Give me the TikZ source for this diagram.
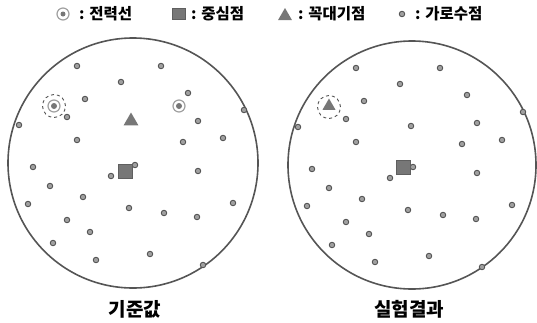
\documentclass[tikz,border=0pt]{standalone}
\usepackage{fontspec}
\newfontfamily\kr{Noto Sans CJK KR}
\usetikzlibrary{shapes.geometric}
\definecolor{rim}{HTML}{555555}
\definecolor{mark}{HTML}{777777}
\tikzset{
  lamp/.style={draw=rim,fill=mark!70,circle,line width=0.9pt,inner sep=0pt,minimum size=5.5pt},
  centre/.style={fill=mark,draw=mark!80!black,inner sep=0pt,minimum size=14pt},
  pole/.style={fill=mark,regular polygon,regular polygon sides=3,inner sep=0pt,minimum size=17pt},
  cable/.style={circle,draw=mark!70,line width=1.2pt,fill=white,inner sep=0pt,minimum size=12pt},
  core/.style={circle,fill=mark,inner sep=0pt,minimum size=6pt},
  ring/.style={circle,draw=rim,dashed,line width=0.9pt,inner sep=0pt,minimum size=23pt},
  area/.style={draw=rim,line width=1.6pt},
  legend/.style={anchor=west,font=\kr\bfseries\fontsize{15.5}{15.5}\selectfont,inner sep=0pt},
  caption/.style={font=\kr\bfseries\fontsize{19}{19}\selectfont,inner sep=0pt}
}
\begin{document}
\begin{tikzpicture}[x=1pt,y=-1pt]
  \useasboundingbox (0,0) rectangle (537,322);
  % legend
  \node[cable] (keyc) at (63,14) {};
  \node[core,minimum size=5pt] at (keyc) {};
  \node[legend] (keyct) at (79,14) {: 전력선};
  \node[centre,minimum width=13pt,minimum height=11pt] (keys) at (179,14) {};
  \node[legend] (keyst) at (191,14) {: 중심점};
  \node[pole,minimum size=16pt] (keyp) at (285,16) {};
  \node[legend] (keypt) at (298,14) {: 꼭대기점};
  \node[lamp] (keyl) at (402,14) {};
  \node[legend] (keylt) at (415,14) {: 가로수점};
  % reference area
  \node[area,circle,minimum size=250pt,inner sep=0pt] (left) at (133,163) {};
  \foreach \x/\y [count=\i] in {77/66,161/66,121/82,188/93,85/99,67/117,198/121,19/125,244/110,
      77/140,183/142,223/138,33/167,135/165,111/176,198/171,50/186,83/197,28/204,129/208,
      164/213,197/217,233/203,67/220,90/232,53/243,150/254,96/260,203/265}
    \node[lamp] (a\i) at (\x,\y) {};
  \node[ring] (aring) at (54,106) {};
  \node[cable] (acab1) at (54,106) {};
  \node[core] at (acab1) {};
  \node[cable] (acab2) at (179,106) {};
  \node[core] at (acab2) {};
  \node[pole] (apole) at (131,121) {};
  \node[centre] (acen) at (125,171) {};
  \node[caption] (lcap) at (135,309) {기준값};
  % test area
  \node[area,circle,minimum size=248pt,inner sep=0pt] (right) at (412,165) {};
  \foreach \x/\y [count=\i] in {356/68,440/68,400/84,467/95,364/101,346/119,298/127,523/112,
      411/126,477/123,356/142,462/144,502/140,312/169,413/167,390/178,477/173,329/188,362/199,
      307/206,408/210,443/215,476/219,512/205,346/222,369/234,332/245,429/256,375/262,482/267}
    \node[lamp] (b\i) at (\x,\y) {};
  \node[ring] (bring) at (329,107) {};
  \node[pole,minimum size=15pt] (bpole) at (329,106) {};
  \node[centre] (bcen) at (403,167) {};
  \node[caption] (rcap) at (409,309) {실험결과};
\end{tikzpicture}
\end{document}
